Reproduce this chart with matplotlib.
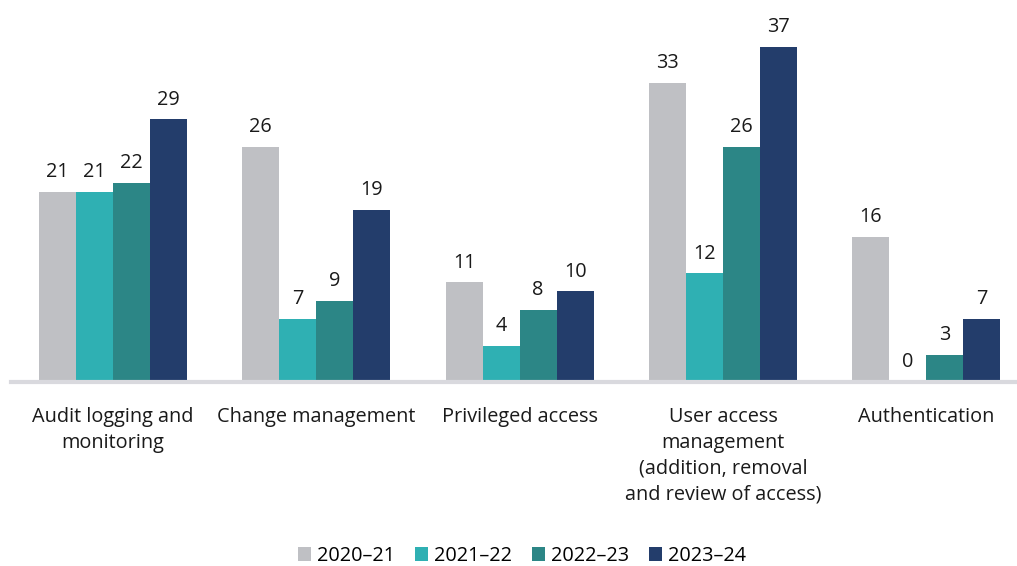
import matplotlib
matplotlib.use("Agg")
import matplotlib.pyplot as plt
import numpy as np
from matplotlib.patches import Patch

categories = ["Audit logging and\nmonitoring", "Change management", "Privileged access",
              "User access\nmanagement\n(addition, removal\nand review of access)", "Authentication"]
series = ["2020–21", "2021–22", "2022–23", "2023–24"]
v2020 = [21, 26, 11, 33, 16]
v2021 = [21, 7, 4, 12, 0]
v2022 = [22, 9, 8, 26, 3]
v2023 = [29, 19, 10, 37, 7]
colors = ["#BFC0C4", "#2FB0B3", "#2C8686", "#233D6B"]

plt.rcParams['font.family'] = ['Open Sans', 'DejaVu Sans']

W, H = 1017, 566
fig = plt.figure(figsize=(W/100, H/100), dpi=100)
ax_left = 11.3 / W
ax_w = 1016.7 / W
ax_bottom = (H - 382) / H
ax = fig.add_axes([ax_left, ax_bottom, ax_w, 382 / H])

FS = 14.3
x = np.arange(len(categories))
bw = 37 / 203.4
data = [v2020, v2021, v2022, v2023]
for i, (vals, c) in enumerate(zip(data, colors)):
    pos = x + (i - 1.5) * bw
    ax.bar(pos, vals, width=bw, color=c, label=series[i], zorder=2)
    for p, v in zip(pos, vals):
        ax.annotate(str(v), (p, v), xytext=(0, 7), textcoords="offset points",
                    ha="center", va="bottom", fontsize=FS, color="#1a1a1a")

ax.set_xlim(-0.5, 4.5)
ax.set_ylim(0, 382 / (335 / 37))
for s in ["top", "right", "left"]:
    ax.spines[s].set_visible(False)
ax.spines["bottom"].set_color("#D9D9DE")
ax.spines["bottom"].set_linewidth(3)
ax.spines["bottom"].set_zorder(3)
ax.set_yticks([])
ax.set_xticks(x)
ax.set_xticklabels(categories, fontsize=FS, color="#1a1a1a", linespacing=1.38)
ax.tick_params(axis="x", length=0, pad=18)

handles = [Patch(facecolor=c, label=s) for c, s in zip(colors, series)]
fig.legend(handles=handles, loc="center", bbox_to_anchor=(522 / W, (H - 556) / H), ncol=4,
           frameon=False, fontsize=FS, handlelength=0.65, handleheight=0.65,
           handletextpad=0.3, columnspacing=1.0, borderpad=0.1)

fig.savefig("out.png", dpi=100)
